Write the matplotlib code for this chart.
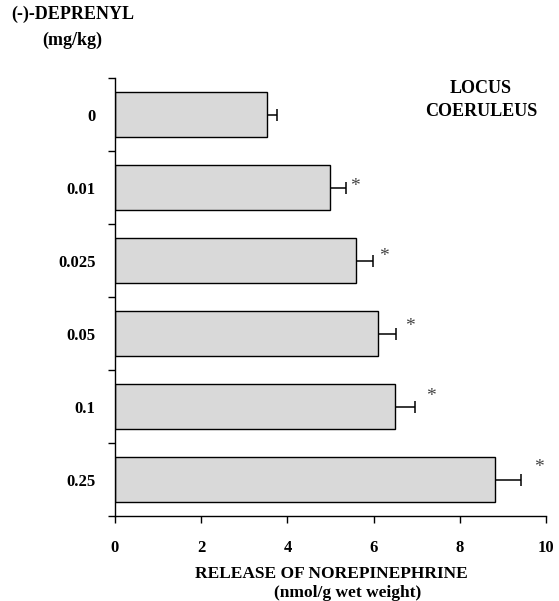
import numpy as np
import matplotlib
matplotlib.use("Agg")
import matplotlib.pyplot as plt

doses = ["0", "0.01", "0.025", "0.05", "0.1", "0.25"]
release = [3.52, 5.00, 5.60, 6.11, 6.49, 8.82]
sem = [0.23, 0.36, 0.38, 0.41, 0.48, 0.60]
signif = [False, True, True, True, True, True]
xticks = [0, 2, 4, 6, 8, 10]

plt.rcParams['font.family'] = ['Liberation Serif', 'DejaVu Serif']
plt.rcParams['font.weight'] = 'bold'

fig = plt.figure(figsize=(5.59, 6.01), dpi=100)
ax = fig.add_axes([0.2057, 0.1414, 0.771, 0.7286])

y = np.arange(len(doses))
release = np.array(release)
sem = np.array(sem)
ax.barh(y, release, height=0.62, color='#d9d9d9', edgecolor='black', linewidth=1.0)
# one-sided error bars: line from bar end, cap only at the outer end
ax.hlines(y, release, release + sem, color='black', linewidth=1.1)
ax.plot(release + sem, y, linestyle='none', marker='|', markersize=8,
        markeredgewidth=1.1, color='black')

# stars beyond the error bars
for i, (v, e, s) in enumerate(zip(release, sem, signif)):
    if s:
        ax.annotate('*', xy=(v + e, i), xytext=(1.5 + 1.6 * i, -1 + 2 * i),
                    textcoords='offset points', ha='left', va='center',
                    fontsize=14, fontweight='normal', color='#444444')

ax.set_xlim(0, 10)
ax.set_ylim(len(doses) - 0.5, -0.5)
ax.set_xticks(xticks)
ax.set_xticklabels([str(t) for t in xticks], fontsize=12, fontweight='bold')
ax.set_yticks(y)
ax.set_yticklabels(doses, fontsize=12, fontweight='bold')
ax.set_yticks(np.arange(len(doses) + 1) - 0.5, minor=True)
ax.tick_params(axis='y', which='major', length=0, pad=14)
ax.tick_params(axis='y', which='minor', length=5, width=1, direction='out')
ax.tick_params(axis='x', which='major', length=5, width=1, direction='out', pad=12)

for side in ['top', 'right']:
    ax.spines[side].set_visible(False)
for side in ['left', 'bottom']:
    ax.spines[side].set_linewidth(1.0)

ax.text(0.849, 0.995, "LOCUS\nCOERULEUS", transform=ax.transAxes, ha='center',
        va='top', fontsize=13, fontweight='bold', linespacing=1.45)

fig.text(0.13, 0.99, "(-)-DEPRENYL\n(mg/kg)", ha='center', va='top',
         fontsize=13, fontweight='bold', linespacing=1.65)

fig.text(0.592, 0.045, "RELEASE OF NOREPINEPHRINE", ha='center', va='center',
         fontsize=12.5, fontweight='bold')
fig.text(0.622, 0.013, "(nmol/g wet weight)", ha='center', va='center',
         fontsize=12.5, fontweight='bold')

fig.savefig("out.png", dpi=100)
